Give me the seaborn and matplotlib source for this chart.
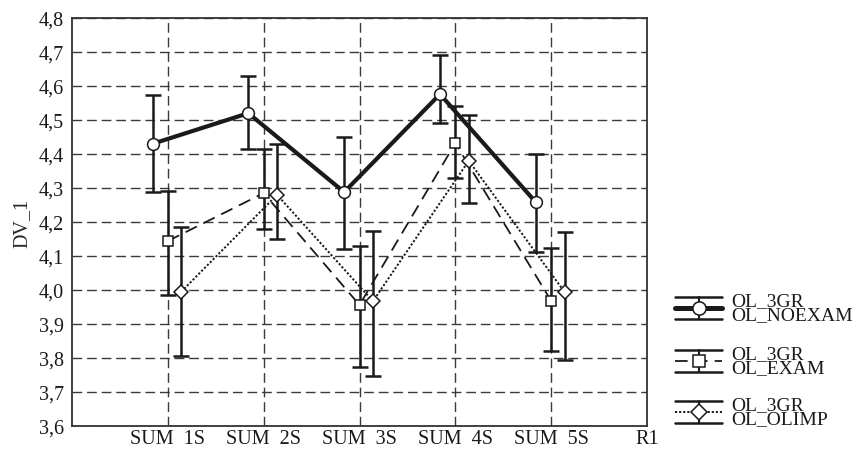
import matplotlib
matplotlib.use("Agg")
import matplotlib.pyplot as plt
import seaborn as sns
import numpy as np
from matplotlib.lines import Line2D

# data
categories = ["SUM  1S", "SUM  2S", "SUM  3S", "SUM  4S", "SUM  5S", "R1"]

noexam_mean = [4.43, 4.52, 4.288, 4.576, 4.258]
noexam_low = [4.288, 4.415, 4.12, 4.492, 4.112]
noexam_high = [4.574, 4.63, 4.45, 4.69, 4.40]

exam_mean = [4.144, 4.285, 3.956, 4.432, 3.968]
exam_low = [3.986, 4.18, 3.774, 4.33, 3.82]
exam_high = [4.29, 4.415, 4.128, 4.54, 4.124]

olimp_mean = [3.995, 4.28, 3.967, 4.38, 3.994]
olimp_low = [3.806, 4.15, 3.747, 4.256, 3.794]
olimp_high = [4.186, 4.43, 4.174, 4.515, 4.17]

legend_labels = ["OL_3GR\nOL_NOEXAM", "OL_3GR\nOL_EXAM", "OL_3GR\nOL_OLIMP"]

sns.set_style("white")
plt.rcParams['font.family'] = ['Liberation Serif', 'DejaVu Serif']
plt.rcParams['font.size'] = 14

W, H = 858, 452
fig = plt.figure(figsize=(W / 100, H / 100), dpi=100)
ax = fig.add_axes([72 / W, 1 - 427 / H, (647 - 72) / W, (427 - 19) / H])

ink = "#1a1a1a"
series = [
    (noexam_mean, noexam_low, noexam_high, -0.16, "o", 8.5, "-", 3.0),
    (exam_mean, exam_low, exam_high, 0.0, "s", 7.5, (0, (7, 4)), 1.3),
    (olimp_mean, olimp_low, olimp_high, 0.14, "D", 7.5, (0, (1.1, 1.0)), 1.4),
]

base_x = np.arange(1, len(categories))
for mean, low, high, off, mk, ms, ls, lw in series:
    xs = base_x + off
    mean = np.array(mean)
    yerr = [mean - np.array(low), np.array(high) - mean]
    ax.errorbar(xs, mean, yerr=yerr, fmt="none", ecolor=ink, elinewidth=1.8,
                capsize=6, capthick=1.8, zorder=3)
    sns.lineplot(x=xs, y=mean, ax=ax, color=ink, linewidth=lw, linestyle=ls,
                 marker=mk, markersize=ms, markerfacecolor="white",
                 markeredgecolor=ink, markeredgewidth=1.1, zorder=4)

ax.set_xlim(0, len(categories))
ax.set_ylim(3.6, 4.8)
ax.set_xticks(np.arange(1, len(categories) + 1))
ax.set_xticklabels(categories)
yt = np.round(np.arange(3.6, 4.81, 0.1), 1)
ax.set_yticks(yt)
ax.set_yticklabels([f"{v:.1f}".replace(".", ",") for v in yt])
ax.tick_params(length=0, labelsize=14.5, colors=ink)
ax.tick_params(axis="y", pad=6)
ax.tick_params(axis="x", pad=2)
ax.set_ylabel("DV_1", fontsize=14.5, labelpad=5)
ax.grid(True, color="#3a3a3a", linestyle=(0, (7, 3.5)), linewidth=1.0, zorder=0)
ax.set_axisbelow(True)
for s in ax.spines.values():
    s.set_color("#333333")
    s.set_linewidth(1.3)

# custom legend: bars above/below with marker in the middle
def fx(px):
    return px / W

def fy(py):
    return 1 - py / H

centers = [309, 362, 413]
for (mean, low, high, off, mk, ms, ls, lw), cy, lab in zip(series, centers, legend_labels):
    x0, x1, xm = 675, 722, 698.5
    for dy in (-11, 11):
        fig.add_artist(Line2D([fx(x0), fx(x1)], [fy(cy + dy), fy(cy + dy)],
                              color=ink, linewidth=1.8))
    fig.add_artist(Line2D([fx(xm), fx(xm)], [fy(cy - 11), fy(cy + 11)],
                          color=ink, linewidth=1.5))
    fig.add_artist(Line2D([fx(x0), fx(x1)], [fy(cy), fy(cy)], color=ink,
                          linewidth=lw + 0.6 if lw > 2 else lw, linestyle=ls))
    fig.add_artist(Line2D([fx(xm)], [fy(cy)], marker=mk, markersize=ms + 1,
                          markerfacecolor="white", markeredgecolor=ink,
                          markeredgewidth=1.1, linestyle="none"))
    fig.text(fx(731), fy(cy), lab, ha="left", va="center", fontsize=14,
             linespacing=0.78, color=ink)

fig.savefig("out.png", dpi=100)
